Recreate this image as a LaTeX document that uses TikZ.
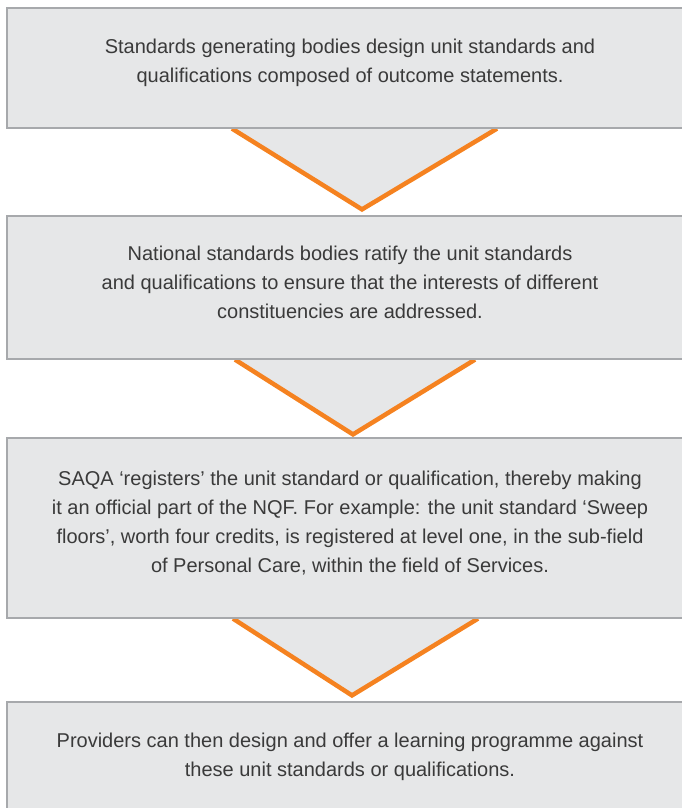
\documentclass[tikz,border=0pt]{standalone}
\usepackage{fontspec}
\setmainfont{Liberation Sans}
\usepackage{xcolor}
\usepackage{tikz}
\usetikzlibrary{calc,backgrounds}
\definecolor{stagefill}{RGB}{230,231,232}
\definecolor{stageline}{RGB}{167,169,172}
\definecolor{flowgorange}{RGB}{245,130,32}
\definecolor{stagetext}{RGB}{58,58,58}

\begin{document}
\begin{tikzpicture}[
    x=1pt, y=-1pt,
    stage/.style={draw=stageline, line width=1.2pt, fill=stagefill, minimum width=686pt, inner sep=0pt},
    stagetxt/.style={font=\fontsize{20}{29.3}\selectfont, text=stagetext, align=center, yshift=5pt},
    chev/.style={draw=flowgorange, fill=stagefill, line width=4.5pt, miter limit=20}
]
\useasboundingbox (0,0) rectangle (681,808);

% the four stages
\node[stage, minimum height=120pt] (s1) at (350,68) {};
\node[stage, minimum height=143pt] (s2) at (350,287.5) {};
\node[stage, minimum height=180pt] (s3) at (350,528) {};
\node[stage, minimum height=119pt] (s4) at (350,761.5) {};

\node[stagetxt] (t1) at (s1.center) {Standards generating bodies design unit standards and\\qualifications composed of outcome statements.};
\node[stagetxt] (t2) at (s2.center) {National standards bodies ratify the unit standards\\and qualifications to ensure that the interests of different\\constituencies are addressed.};
\node[stagetxt] (t3) at (s3.center) {SAQA ‘registers’ the unit standard or qualification, thereby making\\it an official part of the NQF. For example: the unit standard ‘Sweep\\floors’, worth four credits, is registered at level one, in the sub-field\\of Personal Care, within the field of Services.};
\node[stagetxt] (t4) at (s4.center) {Providers can then design and offer a learning programme against\\these unit standards or qualifications.};

% chevron tips
\coordinate (v1) at ($(s2.north)+(12,-6)$);
\coordinate (v2) at ($(s3.north)+(3,-3)$);
\coordinate (v3) at ($(s4.north)+(2,-6)$);

\begin{pgfonlayer}{background}
\draw[chev] ($(s1.south)+(-118,0)$) -- (v1) -- ($(s1.south)+(147,0)$);
\draw[chev] ($(s2.south)+(-115,0)$) -- (v2) -- ($(s2.south)+(125,0)$);
\draw[chev] ($(s3.south)+(-117,0)$) -- (v3) -- ($(s3.south)+(128,0)$);
\end{pgfonlayer}
\end{tikzpicture}
\end{document}
